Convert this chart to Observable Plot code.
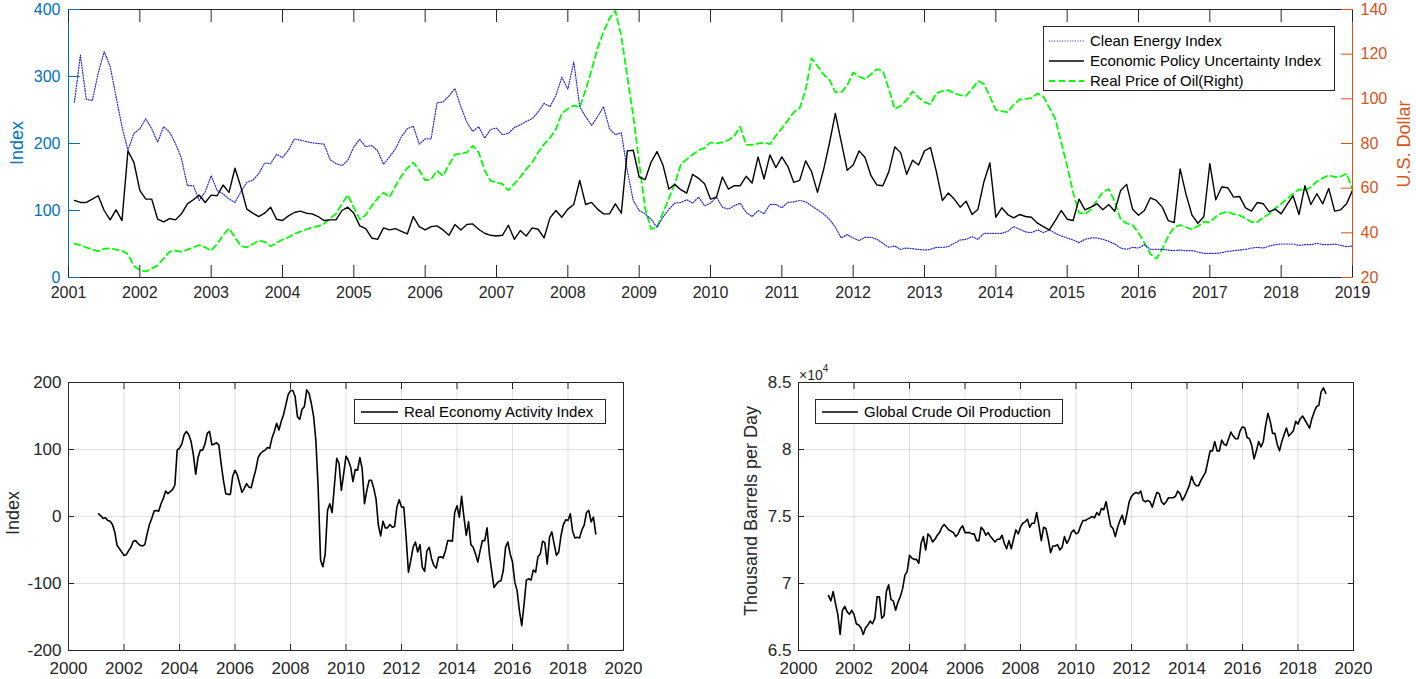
<!DOCTYPE html>
<html>
<head>
<meta charset="utf-8">
<script src="https://cdn.jsdelivr.net/npm/d3@7"></script>
<script src="https://cdn.jsdelivr.net/npm/@observablehq/plot@0.6"></script>
<style>
  body { margin: 0; background: #fff; font-family: "Liberation Sans", Arial, sans-serif; }
  #wrap { position: relative; width: 1416px; height: 679px; overflow: hidden; background: #fff; }
  .panel { position: absolute; }
  .panel svg { display: block; overflow: visible; }
  .ylab { position: absolute; white-space: nowrap; font-size: 18px; transform: translate(-50%, -50%) rotate(-90deg); line-height: 1; }
  .legend { position: absolute; background: #fff; border: 1px solid #262626; box-sizing: border-box; color: #000; }
  .legend .row { position: absolute; left: 0; height: 20px; white-space: nowrap; }
  .legend svg { position: absolute; top: 0; left: 0; }
  .legend span { position: absolute; line-height: 20px; top: 0; }
  .expo { position: absolute; font-size: 14px; color: #262626; line-height: 1; }
  .expo sup { font-size: 10px; position: relative; top: -2px; }
</style>
</head>
<body>
<div id="wrap"></div>
<script>
// ---------------- DATA (monthly, Jan 2001 – Dec 2018) ----------------
const startYear = 2001;

// Clean Energy Index (left axis)
const cleanEnergy = [
  262, 332, 266, 264, 305, 337, 315, 270, 225, 190, 215, 222,
  237, 222, 202, 225, 217, 200, 178, 137, 137, 115, 128, 152,
  130, 125, 117, 112, 128, 142, 145, 155, 171, 170, 184, 179,
  190, 207, 205, 203, 201, 200, 199, 176, 170, 167, 175, 195,
  206, 195, 197, 189, 169, 180, 192, 210, 222, 226, 199, 207,
  207, 261, 262, 271, 282, 255, 232, 218, 225, 208, 221, 223,
  213, 215, 224, 228, 233, 237, 247, 260, 255, 272, 299, 281,
  322, 255, 240, 227, 240, 255, 222, 213, 216, 160, 115, 100,
  95, 87, 75, 90, 102, 111, 112, 116, 111, 120, 107, 111,
  120, 105, 102, 107, 111, 97, 91, 100, 95, 109, 109, 104,
  112, 113, 115, 113, 107, 101, 95, 87, 75, 59, 64, 59,
  55, 60, 60, 57, 51, 45, 47, 42, 44, 43, 42, 41,
  42, 45, 45, 46, 51, 56, 57, 61, 57, 66, 66, 66,
  66, 69, 76, 72, 68, 67, 71, 67, 71, 66, 62, 59,
  56, 52, 57, 59, 59, 57, 54, 50, 44, 42, 45, 44,
  49, 42, 42, 42, 41, 40, 41, 40, 40, 38, 36, 36,
  36, 37, 39, 40, 41, 42, 44, 45, 44, 47, 49, 50,
  50, 50, 48, 49, 49, 51, 49, 49, 50, 48, 46, 47
];

// Economic Policy Uncertainty Index (left axis)
const policyUncertainty = [
  115, 112, 112, 117, 122, 100, 86, 101, 85, 189, 172, 130,
  117, 117, 87, 83, 88, 86, 95, 110, 116, 123, 112, 123,
  122, 138, 127, 163, 135, 102, 96, 91, 96, 105, 87, 85,
  92, 97, 99, 96, 95, 91, 85, 86, 86, 100, 105, 96,
  77, 73, 59, 57, 74, 71, 73, 69, 65, 91, 76, 71,
  76, 77, 71, 63, 79, 71, 79, 80, 72, 66, 63, 62,
  63, 78, 57, 70, 62, 74, 72, 59, 89, 100, 90, 102,
  109, 145, 109, 112, 102, 95, 95, 110, 96, 189, 190, 150,
  146, 172, 188, 168, 132, 139, 131, 126, 154, 148, 140, 117,
  120, 150, 132, 137, 137, 151, 141, 180, 147, 183, 164, 180,
  166, 142, 145, 174, 158, 127, 160, 200, 245, 202, 160, 168,
  189, 179, 152, 138, 137, 158, 195, 186, 154, 175, 168, 189,
  194, 158, 115, 126, 117, 105, 114, 94, 102, 143, 171, 90,
  104, 94, 89, 94, 91, 90, 81, 76, 71, 85, 100, 87,
  85, 117, 101, 105, 110, 101, 109, 99, 130, 139, 102, 93,
  100, 119, 115, 105, 85, 82, 162, 124, 93, 81, 91, 170,
  116, 135, 134, 120, 121, 104, 99, 112, 110, 98, 102, 95,
  109, 122, 94, 137, 109, 125, 110, 133, 99, 101, 110, 130
];

// Real Price of Oil, U.S. dollars (right axis)
const oilPrice = [
  35.2, 34.5, 33.5, 32.5, 31.8, 32.8, 33.1, 32.5, 32.0, 30.4, 25.2, 23.3,
  22.7, 24.0, 25.5, 28.5, 31.5, 32.0, 31.5, 32.5, 33.5, 34.5, 33.5, 32.0,
  35.0, 39.0, 42.0, 38.0, 34.0, 33.5, 35.0, 36.5, 36.0, 34.0, 35.5, 37.0,
  38.0, 39.5, 40.5, 41.5, 42.5, 43.0, 44.0, 46.5, 48.5, 53.0, 57.0, 51.3,
  46.0, 48.0, 52.0, 55.5, 58.0, 56.0, 61.0, 65.5, 69.0, 71.5, 68.0, 63.5,
  64.0, 67.8, 65.5, 70.5, 75.0, 75.5, 76.0, 79.0, 76.0, 68.0, 63.3, 62.5,
  61.8, 59.0, 62.0, 65.0, 68.5, 71.5, 76.0, 79.7, 82.5, 86.5, 93.5, 95.5,
  97.0, 96.2, 104.0, 113.0, 122.7, 130.0, 136.0, 139.4, 128.0, 110.0, 92.5, 71.6,
  51.0, 41.8, 42.4, 49.0, 55.5, 62.0, 70.5, 73.0, 75.0, 77.0, 78.0, 80.5,
  80.0, 80.5, 81.5, 83.4, 87.5, 79.4, 79.4, 80.0, 80.4, 79.7, 83.5, 86.8,
  90.3, 94.0, 95.8, 104.0, 118.2, 114.7, 111.0, 108.5, 103.0, 103.0, 106.0, 111.8,
  110.0, 108.8, 111.0, 113.3, 112.5, 104.3, 95.4, 96.9, 99.5, 103.3, 100.6, 98.5,
  97.6, 102.5, 103.5, 103.9, 102.5, 101.6, 101.3, 104.5, 108.0, 106.6, 101.0, 95.0,
  94.5, 94.0, 97.5, 99.7, 100.0, 100.3, 102.4, 101.0, 96.0, 91.0, 80.5, 70.0,
  58.0, 49.0, 48.4, 50.5, 54.5, 58.3, 59.6, 54.0, 46.0, 44.2, 43.5, 40.0,
  35.5, 30.5, 28.5, 32.7, 38.5, 42.5, 43.5, 42.5, 41.6, 43.0, 45.0, 44.6,
  47.3, 48.8, 49.5, 48.4, 47.8, 46.5, 44.8, 44.8, 47.0, 48.4, 51.0, 53.0,
  55.3, 57.5, 59.5, 59.0, 60.5, 63.0, 64.5, 65.8, 65.0, 65.2, 66.5, 59.6
];

// Real Economy Activity Index
const realActivity = [
  4, 1, -3, -2, -6, -7, -12, -23, -43, -48, -53, -58,
  -57, -51, -46, -37, -36, -40, -43, -44, -42, -26, -12, -3,
  8, 9, 8, 19, 27, 38, 34, 37, 40, 47, 99, 102,
  108, 122, 127, 122, 112, 92, 63, 88, 99, 99, 108, 124,
  127, 107, 108, 110, 107, 79, 54, 34, 33, 33, 60, 69,
  62, 49, 36, 42, 49, 44, 43, 57, 70, 88, 94, 97,
  99, 103, 102, 117, 127, 139, 129, 142, 152, 167, 182, 188,
  188, 179, 149, 145, 160, 164, 189, 184, 169, 149, 112, 39,
  -65, -75, -56, 9, 19, 6, 47, 87, 79, 39, 64, 90,
  84, 74, 52, 70, 69, 88, 71, 19, 39, 54, 54, 42,
  26, -13, -29, -7, -17, -17, -12, -16, -15, 14, 25, 14,
  14, -31, -83, -66, -46, -38, -53, -42, -76, -82, -51, -46,
  -63, -73, -77, -61, -60, -62, -51, -36, -36, -37, 6, 16,
  -1, 30, -1, -28, -8, -42, -46, -56, -68, -51, -36, -36,
  -17, -56, -81, -106, -101, -97, -96, -81, -46, -38, -56, -68,
  -98, -111, -141, -163, -131, -95, -93, -95, -80, -83, -60, -56,
  -37, -39, -71, -31, -23, -41, -58, -53, -28, -12, -5, -6,
  4, -22, -32, -31, -32, -20, -13, 6, 9, -8, -1, -26
];

// Global Crude Oil Production (thousand barrels per day)
const oilProduction = [
  69100, 68700, 69400, 68500, 67700, 66200, 68000, 68300, 67900, 67700, 68000, 67700,
  67000, 66900, 66700, 66200, 66700, 66900, 67200, 67000, 67400, 69000, 69000, 67400,
  67600, 69400, 69900, 68800, 68700, 68000, 68600, 69000, 69600, 70600, 70900, 72100,
  71900, 71800, 71800, 71500, 73000, 73500, 72500, 73700, 73500, 73100, 73300, 73600,
  73800, 74200, 74400, 74200, 74000, 73900, 73800, 73500, 73700, 74100, 74300, 73800,
  73800, 73800, 73700, 73700, 73200, 73200, 74200, 74000, 73600, 73800, 73500, 73300,
  73100, 73300, 73300, 73600, 73000, 72600, 73200, 72600, 73300, 74000, 73700, 74200,
  74500, 74600, 74800, 74200, 74500, 74500, 75300, 74300, 73200, 74200, 74100, 73300,
  72300, 72800, 72800, 72900, 72500, 72700, 73500, 73000, 73300, 73800, 74000, 73700,
  73800, 74300, 74700, 74700, 74800, 74900, 75000, 74900, 75300, 75100, 75600, 75500,
  76100, 75200, 74300, 74100, 73500, 74200, 74700, 75100, 74400, 75200, 76100, 76500,
  76700, 76800, 76700, 76900, 76200, 76100, 76200, 76100, 75700, 76300, 76800, 76700,
  76100, 75900, 76100, 76400, 76400, 76400, 76500, 76900, 76700, 76200, 76500, 76900,
  77300, 78000, 77500, 77300, 77300, 77700, 78000, 78300, 79100, 79900, 79900, 80600,
  79900, 79900, 80700, 80400, 80300, 80800, 81300, 81000, 80800, 80800, 81400, 81700,
  81600, 80900, 80800, 80300, 79300, 79900, 80600, 80200, 80600, 81800, 82700, 82100,
  81200, 81200, 80400, 79900, 80600, 81100, 81600, 81000, 81200, 81400, 82100, 81900,
  82300, 82500, 82200, 81900, 81600, 82300, 82800, 83200, 83300, 84300, 84600, 84200
];

// tick labels
const topYears = d3.range(2001, 2020);
const leftTicks = [0, 100, 200, 300, 400];
const rightTicks = [20, 40, 60, 80, 100, 120, 140];
const bottomYears = [2000, 2002, 2004, 2006, 2008, 2010, 2012, 2014, 2016, 2018, 2020];
const activityTicks = [-200, -100, 0, 100, 200];
const productionTicks = [65000, 70000, 75000, 80000, 85000];

// ---------------- table built from the arrays ----------------
const rows = cleanEnergy.map((v, i) => ({
  t: startYear + (i + 1) / 12,
  cei: v,
  epu: policyUncertainty[i],
  oil: oilPrice[i],
  rea: realActivity[i],
  prod: oilProduction[i]
}));

// ---------------- styles ----------------
const FONT = "'Liberation Sans', Arial, sans-serif";
const axisGray = "#262626";
const leftColor = "#0072BD";
const rightColor = "#D95319";
const blueLine = "#2424d8";
const oilToLeft = v => (v - 20) * 400 / 120;   // right axis -> left axis units
const leftToOil = v => Math.round(v * 120 / 400 + 20);
const blank = () => "";

const wrap = document.getElementById("wrap");
function place(node, left, top) {
  const d = document.createElement("div");
  d.className = "panel";
  d.style.left = left + "px";
  d.style.top = top + "px";
  d.appendChild(node);
  wrap.appendChild(d);
  return d;
}
function addLabel(text, x, y, color) {
  const d = document.createElement("div");
  d.className = "ylab";
  d.textContent = text;
  d.style.left = x + "px";
  d.style.top = y + "px";
  d.style.color = color;
  wrap.appendChild(d);
}
function addLegend(x, y, w, h, items, fontSize, sampleX0, sampleX1, textX, rowY0, rowStep) {
  const box = document.createElement("div");
  box.className = "legend";
  Object.assign(box.style, {left: x + "px", top: y + "px", width: w + "px", height: h + "px", fontSize: fontSize + "px"});
  items.forEach((it, i) => {
    const row = document.createElement("div");
    row.className = "row";
    row.style.top = (rowY0 + i * rowStep - 10) + "px";
    row.style.width = (w - 2) + "px";
    row.innerHTML =
      `<svg width="${w}" height="20"><line x1="${sampleX0}" x2="${sampleX1}" y1="10" y2="10" stroke="${it.color}" stroke-width="${it.width}" ${it.dash ? `stroke-dasharray="${it.dash}"` : ""}/></svg>` +
      `<span style="left:${textX}px">${it.label}</span>`;
    box.appendChild(row);
  });
  wrap.appendChild(box);
}

// inward ticks: outward axis ticks shifted back across the frame edge
function inwardX(ticks, len, color) {
  return [
    Plot.axisX({ticks, tickFormat: blank, tickSize: len, dy: -len, color, label: null}),
    Plot.axisX({anchor: "top", ticks, tickFormat: blank, tickSize: len, dy: len, color, label: null})
  ];
}

// ---------------- TOP PANEL ----------------
const topPlot = Plot.plot({
  width: 1416, height: 310,
  marginLeft: 68, marginRight: 64, marginTop: 9, marginBottom: 33,
  style: {fontFamily: FONT, fontSize: "16px", background: "transparent", overflow: "visible"},
  x: {domain: [2001, 2019]},
  y: {domain: [0, 400]},
  marks: [
    Plot.line(rows, {x: "t", y: d => oilToLeft(d.oil), stroke: "#00ff00", strokeWidth: 1.8, strokeDasharray: "6,4"}),
    Plot.line(rows, {x: "t", y: "cei", stroke: blueLine, strokeWidth: 1.2, strokeDasharray: "1,1.6"}),
    Plot.line(rows, {x: "t", y: "epu", stroke: "#000", strokeWidth: 1.4}),
    Plot.ruleY([0, 400], {stroke: axisGray, strokeWidth: 1}),
    Plot.ruleX([2001], {stroke: leftColor, strokeWidth: 1}),
    Plot.ruleX([2019], {stroke: rightColor, strokeWidth: 1}),
    ...inwardX(topYears, 12, axisGray),
    Plot.axisX({ticks: topYears, tickFormat: d => String(d), tickSize: 0, tickPadding: 9, color: axisGray, label: null}),
    Plot.axisY({ticks: leftTicks, tickFormat: blank, tickSize: 12, dx: 12, color: leftColor, label: null}),
    Plot.axisY({ticks: leftTicks, tickFormat: d => String(d), tickSize: 0, tickPadding: 8, color: leftColor, label: null}),
    Plot.axisY({anchor: "right", ticks: rightTicks.map(oilToLeft), tickFormat: blank, tickSize: 12, dx: -12, color: rightColor, label: null}),
    Plot.axisY({anchor: "right", ticks: rightTicks.map(oilToLeft), tickFormat: leftToOil, tickSize: 0, tickPadding: 8, color: rightColor, label: null})
  ]
});
place(topPlot, 0, 0);
addLabel("Index", 17, 143, leftColor);
addLabel("U.S. Dollar", 1404, 144, rightColor);
addLegend(1043, 26, 292, 65, [
  {label: "Clean Energy Index", color: blueLine, width: 1.2, dash: "1,1.6"},
  {label: "Economic Policy Uncertainty Index", color: "#000", width: 1.4},
  {label: "Real Price of Oil(Right)", color: "#00ff00", width: 1.8, dash: "6,4"}
], 15, 5, 40, 46, 14, 20);

// ---------------- BOTTOM PANELS ----------------
function bottomPlot(width, mLeft, mRight, yKey, yDomain, yTicks, yFormat) {
  return Plot.plot({
    width, height: 339,
    marginLeft: mLeft, marginRight: mRight, marginTop: 42, marginBottom: 29,
    style: {fontFamily: FONT, fontSize: "17px", background: "transparent", overflow: "visible"},
    x: {domain: [2000, 2020]},
    y: {domain: yDomain},
    marks: [
      Plot.gridX(bottomYears, {stroke: "#000", strokeOpacity: 0.12}),
      Plot.gridY(yTicks, {stroke: "#000", strokeOpacity: 0.12}),
      Plot.line(rows, {x: "t", y: yKey, stroke: "#000", strokeWidth: 1.6}),
      Plot.frame({stroke: axisGray}),
      ...inwardX(bottomYears, 6, axisGray),
      Plot.axisX({ticks: bottomYears, tickFormat: d => String(d), tickSize: 0, tickPadding: 11, color: axisGray, label: null}),
      Plot.axisY({ticks: yTicks, tickFormat: blank, tickSize: 6, dx: 6, color: axisGray, label: null}),
      Plot.axisY({anchor: "right", ticks: yTicks, tickFormat: blank, tickSize: 6, dx: -6, color: axisGray, label: null}),
      Plot.axisY({ticks: yTicks, tickFormat: yFormat, tickSize: 0, tickPadding: 7, color: axisGray, label: null})
    ]
  });
}
place(bottomPlot(700, 68, 77, "rea", [-200, 200], activityTicks, d => String(d)), 0, 340);
addLabel("Index", 13, 513, axisGray);
addLegend(354, 399, 252, 25, [
  {label: "Real Economy Activity Index", color: "#000", width: 1.6}
], 15, 6, 43, 49, 12, 20);

place(bottomPlot(716, 98, 63, "prod", [65000, 85000], productionTicks, d => String(d / 1e4)), 700, 340);
addLabel("Thousand Barrels per Day", 751, 511, axisGray);
addLegend(815, 399, 248, 25, [
  {label: "Global Crude Oil Production", color: "#000", width: 1.6}
], 15, 6, 42, 48, 12, 20);
const ex = document.createElement("div");
ex.className = "expo";
ex.innerHTML = "×10<sup>4</sup>";
ex.style.left = "799px";
ex.style.top = "366px";
wrap.appendChild(ex);
</script>
</body>
</html>
